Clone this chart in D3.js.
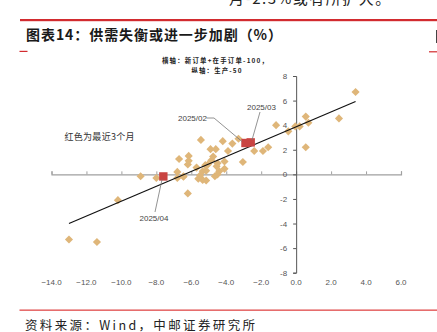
<!DOCTYPE html>
<html>
<head>
<meta charset="utf-8">
<script src="https://cdn.jsdelivr.net/npm/d3@7/dist/d3.min.js"></script>
<style>
  html, body { margin: 0; padding: 0; background: #fff; overflow: hidden; }
  svg { display: block; }
</style>
</head>
<body>
<script>
// Monthly readings: x = new orders + backlog - 100, y = production - 50
const histX = [-13.0, -11.4, -10.2, -8.9, -8.0, -6.2, -6.8, -6.8, -6.45, -6.7,
               -6.15, -6.2, -6.15, -5.7, -5.6, -5.5, -5.35, -5.15, -5.2, -5.05,
               -4.85, -4.75, -4.65, -4.5, -4.4, -4.1, -4.1, -4.9, -4.6, -5.45,
               -4.2, -3.65, -3.3, -3.9, -3.05, -2.4, -1.9, -1.6, -1.15, -0.45,
               -0.05, 0.2, 0.55, 0.7, 0.55, 2.45, 3.4, -4.55, -4.5, -5.15,
               -6.45, -5.35];
const histY = [-5.3, -5.5, -2.1, -0.15, -0.3, -1.55, 0.2, -0.3, -0.15, 1.25,
               1.5, 0.8, 1.1, 0.55, -0.35, -0.1, 0.25, -0.5, 0.75, 0.8,
               1.15, 1.45, -0.15, 0.9, 0.25, 0.45, 1.05, 2.05, 2.05, 2.8,
               2.7, 2.5, 2.9, 1.9, 1.0, 1.9, 1.9, 2.2, 4.0, 3.5,
               3.9, 3.9, 4.7, 4.2, 2.2, 4.55, 6.7, 0.65, 0.0, 0.3,
               -0.2, -0.45];

// The three most recent months (drawn in red)
const recentLabels = ["2025/02", "2025/03", "2025/04"];
const recentX = [-2.9, -2.6, -7.6];
const recentY = [2.55, 2.6, -0.17];

// Fitted trend line
const trendSlope = 0.605;
const trendIntercept = 3.87;
const trendXRange = [-13.0, 3.4];

const xTicks = [-14, -12, -10, -8, -6, -4, -2, 0, 2, 4, 6];
const yTicks = [-8, -6, -4, -2, 0, 2, 4, 6, 8];

const W = 437, H = 332;
const RED = "#d22b2f";
const TAN = "#dfb679";
const MARK_RED = "#c94442";

const svg = d3.select("body").append("svg")
  .attr("width", W).attr("height", H);

// Page furniture: running body text, rules, title, source
svg.append("text")
  .attr("x", 229).attr("y", 4)
  .attr("font-family", "Noto Sans CJK SC")
  .attr("font-size", 15).attr("fill", "#222")
  .attr("letter-spacing", 1.5)
  .text("月-2.3%或有所扩大。");

svg.append("rect").attr("x", 20).attr("y", 19).attr("width", W - 20).attr("height", 2.2).attr("fill", RED);
svg.append("rect").attr("x", 436).attr("y", 30).attr("width", 1.2).attr("height", 13).attr("fill", "#444");

svg.append("text")
  .attr("x", 26).attr("y", 40)
  .attr("font-family", "Noto Sans CJK SC")
  .attr("font-weight", "bold")
  .attr("font-size", 14).attr("fill", "#1a1a1a")
  .attr("textLength", 256).attr("lengthAdjust", "spacing")
  .text("图表14：供需失衡或进一步加剧（%）");

svg.append("rect").attr("x", 19.5).attr("y", 50.8).attr("width", 8).attr("height", 1.2).attr("fill", RED);
svg.append("rect").attr("x", 429).attr("y", 51.2).attr("width", 8).attr("height", 1.2).attr("fill", RED);

svg.append("rect").attr("x", 19.5).attr("y", 309.5).attr("width", W - 19.5).attr("height", 1.3).attr("fill", "#e04a4a");

svg.append("text")
  .attr("x", 25).attr("y", 329.5)
  .attr("font-family", "Noto Sans CJK SC")
  .attr("font-size", 12.5).attr("fill", "#222")
  .attr("textLength", 230).attr("lengthAdjust", "spacing")
  .text("资料来源：Wind，中邮证券研究所");

// Scales
const x = d3.scaleLinear().domain([-14, 6]).range([51.5, 401]);
const y = d3.scaleLinear().domain([-8, 8]).range([272.7, 76]);

// Axis notes
svg.append("text")
  .attr("x", 215).attr("y", 63.2)
  .attr("text-anchor", "middle")
  .attr("font-family", "Noto Sans CJK SC")
  .attr("font-weight", "bold")
  .attr("font-size", 6.4).attr("fill", "#222")
  .attr("textLength", 106).attr("lengthAdjust", "spacing")
  .text("横轴：新订单+在手订单-100，");
svg.append("text")
  .attr("x", 216.5).attr("y", 72.6)
  .attr("text-anchor", "middle")
  .attr("font-family", "Noto Sans CJK SC")
  .attr("font-weight", "bold")
  .attr("font-size", 6.4).attr("fill", "#222")
  .attr("textLength", 50).attr("lengthAdjust", "spacing")
  .text("纵轴：生产-50");

svg.append("text")
  .attr("x", 64.5).attr("y", 139.5)
  .attr("font-family", "Noto Sans CJK SC")
  .attr("font-size", 9).attr("fill", "#333")
  .attr("textLength", 70).attr("lengthAdjust", "spacing")
  .text("红色为最近3个月");

// Horizontal axis through y = 0
const xAxis = d3.axisBottom(x)
  .tickValues(xTicks)
  .tickSize(-3)
  .tickFormat(() => "");
const gx = svg.append("g")
  .attr("transform", `translate(0,${y(0)})`)
  .call(xAxis);
gx.select(".domain").attr("stroke", "#a0a0a0").attr("stroke-width", 1.2);
gx.selectAll(".tick line").attr("stroke", "#a0a0a0");

// Vertical axis through x = 0
const yAxis = d3.axisLeft(y)
  .tickValues(yTicks)
  .tickSize(3)
  .tickFormat(() => "");
const gy = svg.append("g")
  .attr("transform", `translate(${x(0)},0)`)
  .call(yAxis);
gy.select(".domain").attr("stroke", "#555").attr("stroke-width", 1);
gy.selectAll(".tick line").attr("stroke", "#555");

// Tick labels
svg.append("g").selectAll("text")
  .data(xTicks)
  .join("text")
  .attr("x", d => x(d))
  .attr("y", 285)
  .attr("text-anchor", "middle")
  .attr("font-family", "Liberation Sans, Arial, sans-serif")
  .attr("font-size", 8).attr("fill", "#555")
  .text(d => d3.format(".1f")(d));

svg.append("g").selectAll("text")
  .data(yTicks)
  .join("text")
  .attr("x", x(0) - 9)
  .attr("y", d => y(d) + 3)
  .attr("text-anchor", "end")
  .attr("font-family", "Liberation Sans, Arial, sans-serif")
  .attr("font-size", 8).attr("fill", "#555")
  .text(d => d);

// Historical points as diamonds (squares turned 45 degrees)
const hist = histX.map((v, i) => ({ x: v, y: histY[i] }));
svg.append("g").selectAll("path")
  .data(hist)
  .join("path")
  .attr("transform", d => `translate(${x(d.x)},${y(d.y)}) rotate(45)`)
  .attr("d", d3.symbol().type(d3.symbolSquare).size(33)())
  .attr("fill", TAN);

// Trend line
svg.append("line")
  .attr("x1", x(trendXRange[0])).attr("y1", y(trendSlope * trendXRange[0] + trendIntercept))
  .attr("x2", x(trendXRange[1])).attr("y2", y(trendSlope * trendXRange[1] + trendIntercept))
  .attr("stroke", "#111").attr("stroke-width", 1.2);

// Recent months as red squares
const recent = recentX.map((v, i) => ({ x: v, y: recentY[i], label: recentLabels[i] }));
svg.append("g").selectAll("rect")
  .data(recent)
  .join("rect")
  .attr("x", d => x(d.x) - 4.2)
  .attr("y", d => y(d.y) - 4.2)
  .attr("width", 8.4).attr("height", 8.4)
  .attr("fill", MARK_RED);

// Callouts with leader lines to the red markers
const callouts = [
  { i: 0, tx: 178, ty: 121, path: [[206.5, 118], [214, 118], [242, 141.5]] },
  { i: 1, tx: 247, ty: 109.5, path: [[260, 112], [252, 140]] },
  { i: 2, tx: 139.5, ty: 220.5, path: [[155, 212], [162, 179.5]] }
];
callouts.forEach(c => {
  svg.append("path")
    .attr("d", d3.line()(c.path))
    .attr("fill", "none")
    .attr("stroke", "#777").attr("stroke-width", 0.8);
  svg.append("text")
    .attr("x", c.tx).attr("y", c.ty)
    .attr("font-family", "Liberation Sans, Arial, sans-serif")
    .attr("font-size", 8).attr("fill", "#444")
    .text(recent[c.i].label);
});
</script>
</body>
</html>
